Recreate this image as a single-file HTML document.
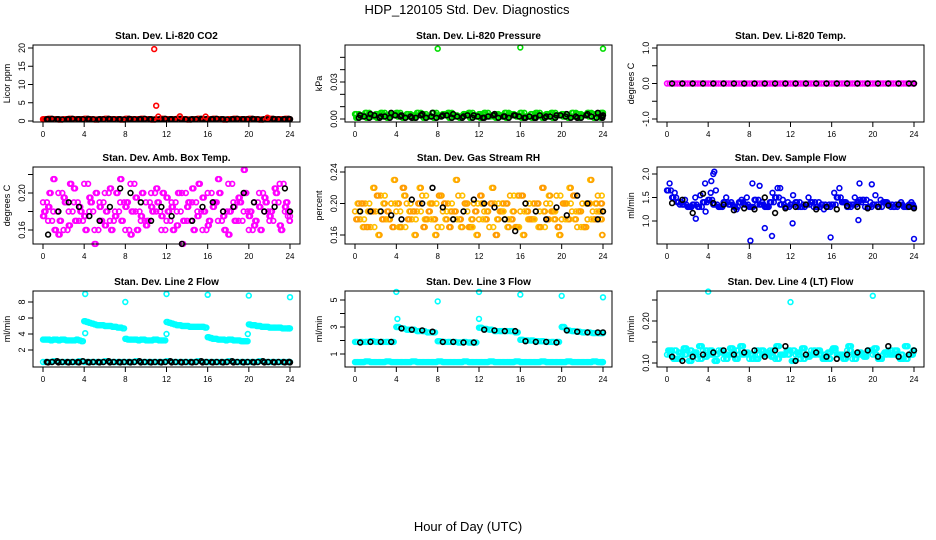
<!DOCTYPE html>
<html><head><meta charset="utf-8"><style>
html,body{margin:0;padding:0;background:#fff;}
svg{display:block;font-family:"Liberation Sans",sans-serif;}
</style></head><body>
<svg id="c" width="936" height="540" viewBox="0 0 936 540">
<text x="467" y="14" text-anchor="middle" font-size="13">HDP_120105  Std. Dev. Diagnostics</text>
<text x="468" y="531" text-anchor="middle" font-size="13">Hour of Day (UTC)</text>
</svg>
<script>
const H=[0,0.5,1,1.5,2,2.5,3,3.5,4,4.5,5,5.5,6,6.5,7,7.5,8,8.5,9,9.5,10,10.5,11,11.5,12,12.5,13,13.5,14,14.5,15,15.5,16,16.5,17,17.5,18,18.5,19,19.5,20,20.5,21,21.5,22,22.5,23,23.5,24];
const H2=[0.25,0.75,1.25,1.75,2.25,2.75,3.25,3.75,4.25,4.75,5.25,5.75,6.25,6.75,7.25,7.75,8.25,8.75,9.25,9.75,10.25,10.75,11.25,11.75,12.25,12.75,13.25,13.75,14.25,14.75,15.25,15.75,16.25,16.75,17.25,17.75,18.25,18.75,19.25,19.75,20.25,20.75,21.25,21.75,22.25,22.75,23.25,23.75,23.9];
const H3=[0.12,0.62,1.12,1.62,2.12,2.62,3.12,3.62,4.12,4.62,5.12,5.62,6.12,6.62,7.12,7.62,8.12,8.62,9.12,9.62,10.12,10.62,11.12,11.62,12.12,12.62,13.12,13.62,14.12,14.62,15.12,15.62,16.12,16.62,17.12,17.62,18.12,18.62,19.12,19.62,20.12,20.62,21.12,21.62,22.12,22.62,23.12,23.62,23.8];
const H4=[0.38,0.88,1.38,1.88,2.38,2.88,3.38,3.88,4.38,4.88,5.38,5.88,6.38,6.88,7.38,7.88,8.38,8.88,9.38,9.88,10.38,10.88,11.38,11.88,12.38,12.88,13.38,13.88,14.38,14.88,15.38,15.88,16.38,16.88,17.38,17.88,18.38,18.88,19.38,19.88,20.38,20.88,21.38,21.88,22.38,22.88,23.38,23.88,23.95];
const HB=[0.5,1.5,2.5,3.5,4.5,5.5,6.5,7.5,8.5,9.5,10.5,11.5,12.5,13.5,14.5,15.5,16.5,17.5,18.5,19.5,20.5,21.5,22.5,23.5,24];
const xTicks=[0,4,8,12,16,20,24];
// CO2
const co2=[0.5,0.6,0.5,0.4,0.5,0.6,0.5,0.5,0.6,0.5,0.4,0.5,0.6,0.5,0.5,0.4,0.6,0.5,0.5,0.6,0.5,0.4,0.5,0.6,0.5,0.5,0.6,0.5,0.4,0.5,0.6,0.5,0.5,0.6,0.5,0.4,0.5,0.6,0.5,0.5,0.6,0.5,0.4,0.5,0.6,0.5,0.5,0.6,0.5];
const co2OutH=[10.8,11.0,11.2,13.3,15.8,21.8];
const co2OutV=[19.7,4.2,1.2,1.3,1.2,0.9];
const co2B=[0.5,0.5,0.5,0.5,0.5,0.5,0.5,0.5,0.5,0.5,0.5,0.5,0.5,0.5,0.5,0.5,0.5,0.5,0.5,0.5,0.5,0.5,0.5,0.5,0.5];
// Pressure
const pa=[.004,.003,.005,.002,.004,.005,.003,.004,.005,.002,.004,.003,.005,.004,.002,.005,.003,.004,.005,.003,.002,.004,.005,.003,.004,.005,.002,.004,.003,.005,.004,.003,.005,.002,.004,.005,.003,.004,.005,.003,.004,.002,.005,.004,.003,.005,.004,.003,.005];
const pb=[.001,.002,.001,.003,.001,.002,.001,.003,.002,.001,.002,.001,.003,.001,.002,.001,.002,.003,.001,.002,.001,.003,.001,.002,.001,.002,.003,.001,.002,.001,.003,.002,.001,.002,.001,.003,.001,.002,.001,.003,.002,.001,.002,.001,.003,.002,.001,.002,.001];
const pOutH=[8,16,24];
const pOutV=[.057,.058,.057];
const pB=[.003,.004,.002,.005,.003,.001,.004,.005,.003,.004,.002,.003,.001,.004,.002,.003,.001,.001,.002,.003,.004,.001,.004,.005,.003];
// Temp
const tA=[0,0,0,0,0,0,0,0,0,0,0,0,0,0,0,0,0,0,0,0,0,0,0,0,0,0,0,0,0,0,0,0,0,0,0,0,0,0,0,0,0,0,0,0,0,0,0,0,0];
const tB=[0,0,0,0,0,0,0,0,0,0,0,0,0,0,0,0,0,0,0,0,0,0,0,0,0];
// Amb box
const amb1=[.19,.17,.18,.2,.16,.18,.19,.17,.21,.18,.16,.19,.2,.17,.18,.19,.16,.21,.18,.17,.19,.2,.18,.16,.17,.19,.18,.2,.17,.19,.18,.16,.2,.19,.17,.18,.21,.19,.17,.18,.16,.19,.2,.18,.17,.19,.21,.18,.17];
const amb2=[.18,.2,.16,.17,.19,.21,.17,.18,.16,.19,.2,.17,.18,.16,.2,.17,.19,.18,.16,.2,.17,.18,.19,.2,.18,.16,.2,.17,.19,.16,.21,.18,.17,.19,.2,.16,.18,.17,.19,.2,.18,.17,.16,.19,.18,.2,.16,.19,.18];
const amb3=[.175,.185,.215,.155,.195,.165,.205,.185,.175,.195,.145,.185,.165,.205,.175,.215,.185,.155,.195,.175,.165,.185,.205,.175,.195,.185,.165,.145,.185,.205,.175,.195,.165,.185,.215,.175,.155,.185,.195,.225,.175,.165,.185,.195,.175,.205,.165,.185,.175];
const ambB=[.155,.18,.19,.185,.175,.17,.185,.205,.2,.19,.17,.185,.175,.145,.17,.185,.19,.18,.185,.2,.19,.18,.185,.205,.18];
// RH
const rh1=[.19,.18,.2,.17,.19,.21,.18,.2,.19,.17,.2,.18,.19,.21,.18,.2,.17,.19,.2,.18,.21,.19,.17,.2,.18,.19,.17,.2,.19,.18,.21,.17,.19,.2,.18,.19,.17,.2,.19,.21,.18,.2,.19,.17,.2,.18,.19,.21,.19];
const rh2=[.18,.2,.17,.19,.21,.18,.19,.17,.2,.22,.18,.19,.2,.17,.19,.18,.21,.2,.17,.19,.18,.2,.17,.19,.21,.18,.2,.16,.19,.2,.18,.17,.21,.19,.18,.2,.22,.18,.19,.17,.2,.18,.21,.19,.17,.2,.18,.19,.2];
const rh3=[.2,.17,.19,.22,.16,.2,.18,.23,.17,.21,.19,.16,.22,.18,.2,.16,.21,.18,.19,.23,.17,.2,.18,.16,.2,.19,.22,.18,.2,.17,.19,.21,.16,.18,.2,.17,.19,.21,.18,.16,.2,.22,.18,.19,.17,.23,.2,.18,.16];
const rhB=[.19,.19,.19,.185,.18,.205,.2,.22,.195,.18,.19,.205,.2,.195,.18,.165,.2,.19,.18,.195,.185,.21,.2,.18,.19];
// Sample flow
const sf1=[1.65,1.5,1.4,1.35,1.3,1.35,1.3,1.4,1.45,1.35,1.3,1.4,1.35,1.3,1.4,1.35,1.3,1.45,1.35,1.3,1.4,1.5,1.35,1.3,1.35,1.4,1.3,1.35,1.4,1.3,1.35,1.3,1.35,1.5,1.4,1.3,1.35,1.4,1.45,1.3,1.35,1.3,1.4,1.35,1.3,1.35,1.3,1.35,1.3];
const sf2=[1.8,1.6,1.35,1.45,1.3,1.5,1.55,1.2,1.6,1.65,1.3,1.5,1.4,1.25,1.45,1.5,1.3,1.35,1.4,1.3,1.6,1.7,1.45,1.4,1.55,1.3,1.35,1.5,1.3,1.4,1.25,1.35,1.6,1.7,1.4,1.35,1.5,1.45,1.3,1.4,1.55,1.45,1.4,1.3,1.35,1.4,1.3,1.4,1.35];
const sfOutH=[2.8,3.7,4.3,4.5,4.6,8.1,8.3,9.0,9.5,10.2,11.0,12.2,15.9,18.6,18.7,19.9,24.0];
const sfOutV=[1.05,1.8,1.85,2.0,2.05,0.58,1.8,1.75,0.85,0.68,1.7,0.95,0.65,1.02,1.8,1.78,0.62];
const sfB=[1.38,1.45,1.17,1.58,1.38,1.35,1.23,1.27,1.25,1.5,1.17,1.27,1.3,1.35,1.25,1.3,1.25,1.32,1.3,1.27,1.3,1.33,1.35,1.3,1.27];
// Line 2
const l2top=[3.3,3.3,3.3,3.2,3.3,3.2,3.2,3.2,5.6,5.4,5.2,5.1,5.0,5.0,4.9,4.8,3.4,3.3,3.3,3.3,3.2,3.2,3.3,3.2,5.5,5.3,5.1,5.0,5.0,4.9,4.9,4.9,3.6,3.4,3.3,3.3,3.3,3.2,3.2,3.1,5.2,5.1,5.0,4.9,4.8,4.8,4.8,4.7,4.7];
const l2top2=[3.3,3.2,3.3,3.3,3.2,3.2,3.3,3.1,5.5,5.3,5.1,5.1,5.0,4.9,4.8,4.7,3.3,3.3,3.2,3.3,3.2,3.3,3.2,3.2,5.4,5.2,5.1,5.0,4.9,4.9,4.9,4.8,3.5,3.4,3.3,3.2,3.3,3.2,3.1,3.1,5.1,5.0,4.9,4.9,4.8,4.8,4.7,4.7,4.7];
const l2OutH=[4.1,4.1,8.0,12.0,12.0,16.0,20.0,19.9,24];
const l2OutV=[9.0,4.1,8.0,9.0,4.0,8.9,8.8,4.0,8.6];
const l2low=[0.5,0.5,0.6,0.5,0.5,0.5,0.5,0.6,0.5,0.5,0.5,0.5,0.6,0.5,0.5,0.5,0.5,0.5,0.6,0.5,0.5,0.5,0.5,0.5,0.6,0.5,0.5,0.5,0.5,0.5,0.6,0.5,0.5,0.5,0.5,0.5,0.6,0.5,0.5,0.5,0.5,0.5,0.6,0.5,0.5,0.5,0.5,0.5,0.5];
const l2B=[0.45,0.45,0.45,0.45,0.45,0.45,0.45,0.45,0.45,0.45,0.45,0.45,0.45,0.45,0.45,0.45,0.45,0.45,0.45,0.45,0.45,0.45,0.45,0.45,0.45];
// Line 3
const l3top=[1.9,1.9,1.9,1.95,1.9,1.9,1.9,1.9,3.0,2.9,2.8,2.8,2.7,2.7,2.6,2.6,1.95,1.9,1.9,1.9,1.85,1.9,1.85,1.85,2.95,2.85,2.8,2.7,2.7,2.7,2.7,2.6,2.05,2.0,2.0,1.95,1.95,1.9,1.9,1.9,3.0,2.75,2.7,2.65,2.6,2.6,2.55,2.55,2.55];
const l3OutH=[4.0,4.1,8.0,12.0,12.0,16.0,20.0,24.0];
const l3OutV=[5.6,3.6,4.9,5.6,3.6,5.4,5.3,5.2];
const l3low=[0.4,0.4,0.45,0.4,0.4,0.4,0.45,0.4,0.4,0.4,0.4,0.45,0.4,0.4,0.4,0.4,0.45,0.4,0.4,0.4,0.4,0.45,0.4,0.4,0.4,0.4,0.45,0.4,0.4,0.4,0.4,0.45,0.4,0.4,0.4,0.4,0.45,0.4,0.4,0.4,0.4,0.45,0.4,0.4,0.4,0.4,0.45,0.4,0.4];
const l3B=[1.85,1.9,1.9,1.9,2.9,2.8,2.75,2.65,1.9,1.9,1.85,1.85,2.8,2.75,2.7,2.7,1.95,1.9,1.9,1.85,2.75,2.65,2.6,2.6,2.6];
// Line 4
const l4a=[.12,.13,.11,.12,.13,.12,.11,.13,.12,.12,.13,.11,.12,.13,.12,.12,.11,.13,.12,.12,.13,.11,.12,.12,.13,.12,.11,.12,.13,.12,.12,.11,.13,.12,.12,.13,.11,.12,.12,.13,.12,.11,.12,.13,.12,.12,.11,.12,.13];
const l4b=[.13,.11,.125,.135,.105,.125,.14,.115,.13,.105,.125,.12,.135,.11,.14,.125,.12,.11,.13,.125,.115,.14,.12,.13,.105,.125,.135,.115,.12,.13,.11,.125,.135,.12,.11,.14,.12,.125,.115,.13,.135,.11,.125,.12,.13,.11,.14,.12,.125];
const l4OutH=[4,12,20];
const l4OutV=[.27,.245,.26];
const l4B=[.115,.105,.115,.12,.125,.13,.12,.125,.13,.115,.13,.14,.105,.12,.125,.115,.11,.12,.125,.13,.115,.14,.115,.12,.13];

const NS='http://www.w3.org/2000/svg';
const svg=document.getElementById('c');
function mk(tag,attrs,parent){const e=document.createElementNS(NS,tag);for(const k in attrs)e.setAttribute(k,attrs[k]);(parent||svg).appendChild(e);return e;}

const cols=[{l:33,r:300,x0:43,x24:290},{l:345,r:612,x0:355,x24:603},{l:657,r:924,x0:667,x24:914}];
const rows=[{t:45,b:122},{t:167,b:244},{t:291,b:367}];

const panels=[
 {name:'co2',title:'Stan. Dev. Li-820 CO2',ylab:'Licor ppm',c:0,r:0,cal:[0,121,20,48],ticks:[0,5,10,15,20],labs:['0','5','10','15','20'],
  series:[[H,co2,'#ff0000'],[H2,co2,'#ff0000'],[H3,co2,'#ff0000'],[HB,co2B,'#000'],[H4,co2,'#000'],[co2OutH,co2OutV,'#ff0000']]},
 {name:'pressure',title:'Stan. Dev. Li-820 Pressure',ylab:'kPa',c:1,r:0,cal:[0,119,0.03,82],ticks:[0,0.01,0.02,0.03,0.04,0.05],labs:['0.00','','','0.03','',''],
  series:[[H,pa,'#00dd00'],[H2,pb,'#00dd00'],[H3,pb,'#00dd00'],[H4,pa,'#00dd00'],[H3,pa,'#00dd00'],[HB,pB,'#000'],[H4,pb,'#000'],[pOutH,pOutV,'#00dd00']]},
 {name:'temp',title:'Stan. Dev. Li-820 Temp.',ylab:'degrees C',c:2,r:0,cal:[-1,119,1,48],ticks:[-1,-0.5,0,0.5,1],labs:['-1.0','','0.0','','1.0'],
  series:[[H,tA,'#ff00ff'],[H2,tA,'#ff00ff'],[HB,tB,'#000']]},
 {name:'amb-box',title:'Stan. Dev. Amb. Box Temp.',ylab:'degrees C',c:0,r:1,cal:[0.16,230,0.20,193],ticks:[0.16,0.18,0.20,0.22],labs:['0.16','','0.20',''],
  series:[[H,amb1,'#ff00ff'],[H2,amb2,'#ff00ff'],[H,amb3,'#ff00ff'],[H3,amb2,'#ff00ff'],[H4,amb1,'#ff00ff'],[H3,amb3,'#ff00ff'],[HB,ambB,'#000']]},
 {name:'rh',title:'Stan. Dev. Gas Stream RH',ylab:'percent',c:1,r:1,cal:[0.16,235,0.24,172],ticks:[0.16,0.20,0.24],labs:['0.16','0.20','0.24'],
  series:[[H,rh1,'#ffb000'],[H2,rh2,'#ffa000'],[H2,rh3,'#ffc000'],[H3,rh2,'#ff9900'],[H4,rh1,'#ffc000'],[H4,rh3,'#ffa000'],[HB,rhB,'#000']]},
 {name:'sample-flow',title:'Stan. Dev. Sample Flow',ylab:'ml/min',c:2,r:1,cal:[1,221,2,174],ticks:[1,1.5,2],labs:['1.0','1.5','2.0'],
  series:[[H,sf1,'#0000ee'],[H2,sf2,'#0000ee'],[H3,sf1,'#0000ee'],[H4,sf1,'#0000ee'],[sfOutH,sfOutV,'#0000ee'],[HB,sfB,'#000']]},
 {name:'line2',title:'Stan. Dev. Line 2 Flow',ylab:'ml/min',c:0,r:2,cal:[2,350,8,302],ticks:[2,4,6,8],labs:['2','4','6','8'],
  series:[[H,l2top,'#00ffff'],[H2,l2top2,'#00ffff'],[H3,l2top,'#00ffff'],[H4,l2top2,'#00ffff'],[l2OutH,l2OutV,'#00ffff'],[H,l2low,'#00ffff'],[H2,l2low,'#00ffff'],[HB,l2B,'#000'],[H4,l2low,'#000']]},
 {name:'line3',title:'Stan. Dev. Line 3 Flow',ylab:'ml/min',c:1,r:2,cal:[1,354,5,300],ticks:[1,2,3,4,5],labs:['1','','3','','5'],
  series:[[H,l3top,'#00ffff'],[H2,l3top,'#00ffff'],[H3,l3top,'#00ffff'],[l3OutH,l3OutV,'#00ffff'],[H,l3low,'#00ffff'],[H2,l3low,'#00ffff'],[H3,l3low,'#00ffff'],[H4,l3low,'#00ffff'],[HB,l3B,'#000']]},
 {name:'line4',title:'Stan. Dev. Line 4 (LT) Flow',ylab:'ml/min',c:2,r:2,cal:[0.10,363,0.20,321],ticks:[0.10,0.15,0.20,0.25],labs:['0.10','','0.20',''],
  series:[[H,l4a,'#00ffff'],[H2,l4b,'#00ffff'],[H2,l4a,'#00ffff'],[H3,l4b,'#00ffff'],[H4,l4a,'#00ffff'],[H4,l4b,'#00ffff'],[l4OutH,l4OutV,'#00ffff'],[HB,l4B,'#000']]}
];

panels.forEach(p=>{
  const C=cols[p.c],R=rows[p.r];
  const g=mk('g',{});
  
  
  const xs=v=>C.x0+(C.x24-C.x0)*v/24;
  const ys=v=>p.cal[1]+(p.cal[3]-p.cal[1])*(v-p.cal[0])/(p.cal[2]-p.cal[0]);
  const t=mk('text',{x:(C.l+C.r)/2,y:R.t-6,'text-anchor':'middle','font-size':'10','font-weight':'bold'},g);
  t.textContent=p.title;
  
  
  const yl=mk('text',{x:0,y:0,'text-anchor':'middle','font-size':'9',transform:`translate(${C.l-23},${(R.t+R.b)/2}) rotate(-90)`},g);
  yl.textContent=p.ylab;
  
  
  const pg=mk('g',{fill:'none','stroke-width':'1.6'},g);
  
  
  p.series.forEach(s=>{
    const [xa,ya,col]=s;
    for(let i=0;i<ya.length&&i<xa.length;i++){
      const c=mk('circle',{cx:xs(xa[i]).toFixed(1),cy:ys(ya[i]).toFixed(1),r:'2.4',stroke:col},pg);
      
      
    }
  });
  const b=mk('rect',{x:C.l,y:R.t,width:C.r-C.l,height:R.b-R.t,fill:'none',stroke:'#000','stroke-width':'1'},g);
  
  
  const xa=mk('g',{stroke:'#000'},g);
  
  
  xTicks.forEach(v=>{
    const x=xs(v);
    mk('line',{x1:x,x2:x,y1:R.b,y2:R.b+5},xa);
    const tl=mk('text',{x:x,y:R.b+15,'text-anchor':'middle','font-size':'8',stroke:'none',fill:'#000'},xa);
    tl.textContent=String(v);
    
    
  });
  const ya=mk('g',{stroke:'#000'},g);
  
  
  mk('line',{x1:C.l,x2:C.l,y1:ys(p.ticks[0]),y2:ys(p.ticks[p.ticks.length-1])},ya);
  p.ticks.forEach((v,i)=>{
    const y=ys(v);
    mk('line',{x1:C.l-5,x2:C.l,y1:y,y2:y},ya);
    if(p.labs[i]){
      const tl=mk('text',{x:0,y:0,'text-anchor':'middle','font-size':'9',stroke:'none',fill:'#000',transform:`translate(${C.l-8},${y}) rotate(-90)`},ya);
      tl.textContent=p.labs[i];
      
      
    }
  });
});
</script>
</body></html>
